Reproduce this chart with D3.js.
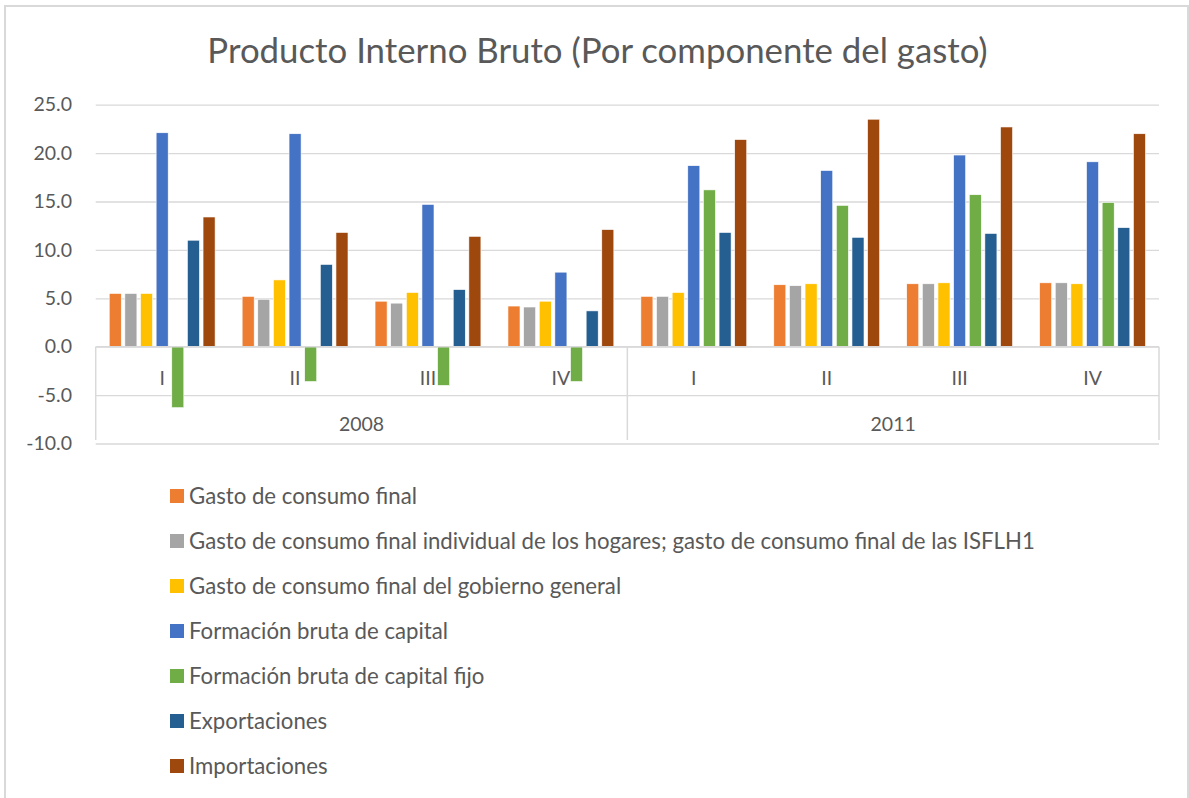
<!DOCTYPE html>
<html>
<head>
<meta charset="utf-8">
<script src="https://cdn.jsdelivr.net/npm/d3@7/dist/d3.min.js"></script>
<style>
  body { margin: 0; background: #fff; }
  svg { display: block; }
  text { font-family: Lato, "Open Sans", sans-serif; fill: #595959; }
</style>
</head>
<body>
<svg id="chart" width="1189" height="798"></svg>
<script>
// Categories: two years, four quarters each
const years = ["2008", "2011"];
const quarters = ["I", "II", "III", "IV"];

// Series (growth rates, %)
const seriesNames = [
  "Gasto de consumo final",
  "Gasto de consumo final individual de los hogares; gasto de consumo final de las ISFLH1",
  "Gasto de consumo final del gobierno general",
  "Formación bruta de capital",
  "Formación bruta de capital fijo",
  "Exportaciones",
  "Importaciones"
];
const seriesColors = ["#ED7D31", "#A5A5A5", "#FFC000", "#4472C4", "#70AD47", "#255E91", "#9E480E"];

const gastoConsumoFinal   = [5.5, 5.2, 4.7, 4.2, 5.2, 6.4, 6.5, 6.6];
const gastoHogares        = [5.5, 4.9, 4.5, 4.1, 5.2, 6.3, 6.5, 6.6];
const gastoGobierno       = [5.5, 6.9, 5.6, 4.7, 5.6, 6.5, 6.6, 6.5];
const formacionBruta      = [22.1, 22.0, 14.7, 7.7, 18.7, 18.2, 19.8, 19.1];
const formacionBrutaFijo  = [-6.3, -3.6, -4.0, -3.6, 16.2, 14.6, 15.7, 14.9];
const exportaciones       = [11.0, 8.5, 5.9, 3.7, 11.8, 11.3, 11.7, 12.3];
const importaciones       = [13.4, 11.8, 11.4, 12.1, 21.4, 23.5, 22.7, 22.0];

const yTicks = [-10, -5, 0, 5, 10, 15, 20, 25];

const seriesValues = [gastoConsumoFinal, gastoHogares, gastoGobierno, formacionBruta,
                      formacionBrutaFijo, exportaciones, importaciones];

// Flattened category keys (year|quarter)
const categories = [];
years.forEach(y => quarters.forEach(q => categories.push(y + "|" + q)));

const svg = d3.select("#chart");
const plot = { left: 95.7, right: 1159, top: 104.7, bottom: 443.5 };

const fmt = d3.formatLocale({ decimal: ".", thousands: ",", grouping: [3], currency: ["", ""], minus: "-" }).format(".1f");

// Outer chart frame
svg.append("rect")
  .attr("x", 5).attr("y", 6).attr("width", 1183).attr("height", 810)
  .attr("fill", "none").attr("stroke", "#D9D9D9").attr("stroke-width", 2);

// Title
svg.append("text")
  .attr("x", 597.5).attr("y", 63)
  .attr("text-anchor", "middle")
  .style("font-size", "34.8px")
  .text("Producto Interno Bruto (Por componente del gasto)");

const y = d3.scaleLinear().domain([-10, 25]).range([plot.bottom, plot.top]);
const x0 = d3.scaleBand().domain(categories).range([plot.left, plot.right]).padding(0);
const x1 = d3.scaleBand().domain(d3.range(seriesNames.length))
  .range([0, x0.bandwidth()]).paddingInner(0.23).paddingOuter(0.865);

// Gridlines
const grid = svg.append("g")
  .attr("transform", `translate(${plot.left},0)`)
  .call(d3.axisLeft(y).tickValues(yTicks).tickSize(-(plot.right - plot.left)).tickFormat(""));
grid.select(".domain").remove();
grid.selectAll("line").attr("stroke", "#D9D9D9").attr("stroke-width", 1.3);

// Y axis labels
const yAxis = svg.append("g")
  .attr("transform", "translate(72,0)")
  .call(d3.axisLeft(y).tickValues(yTicks).tickSize(0).tickPadding(0).tickFormat(fmt));
yAxis.select(".domain").remove();
yAxis.selectAll("text").style("font-size", "19.5px").attr("fill", "#595959");

// Bars
const barGroups = svg.append("g").selectAll("g")
  .data(categories)
  .join("g")
  .attr("transform", d => `translate(${x0(d)},0)`);

barGroups.selectAll("rect")
  .data((d, ci) => seriesValues.map((vals, si) => ({ si, v: vals[ci] })))
  .join("rect")
  .attr("x", d => x1(d.si))
  .attr("width", x1.bandwidth())
  .attr("y", d => y(Math.max(0, d.v)))
  .attr("height", d => Math.abs(y(d.v) - y(0)))
  .attr("fill", d => seriesColors[d.si])
  .attr("stroke", "#fff")
  .attr("stroke-width", 0.6);

// Category axis: zero line, group separators, labels
svg.append("line")
  .attr("x1", plot.left).attr("x2", plot.right)
  .attr("y1", y(0)).attr("y2", y(0))
  .attr("stroke", "#D9D9D9").attr("stroke-width", 1.5);

const yearBounds = [0, 4, 8].map(i => i < categories.length ? x0(categories[i]) : plot.right);
svg.append("g").selectAll("line")
  .data(yearBounds)
  .join("line")
  .attr("x1", d => d).attr("x2", d => d)
  .attr("y1", y(0)).attr("y2", 440)
  .attr("stroke", "#D9D9D9").attr("stroke-width", 1.5);

svg.append("g").selectAll("text")
  .data(categories)
  .join("text")
  .attr("x", d => x0(d) + x0.bandwidth() / 2)
  .attr("y", 378)
  .attr("dy", "0.35em")
  .attr("text-anchor", "middle")
  .style("font-size", "19.5px")
  .text(d => d.split("|")[1]);

svg.append("g").selectAll("text")
  .data(years)
  .join("text")
  .attr("x", (d, i) => (yearBounds[i] + yearBounds[i + 1]) / 2)
  .attr("y", 424)
  .attr("dy", "0.35em")
  .attr("text-anchor", "middle")
  .style("font-size", "19.5px")
  .text(d => d);

// Legend
const legend = svg.append("g").selectAll("g")
  .data(seriesNames)
  .join("g")
  .attr("transform", (d, i) => `translate(170,${496 + i * 45})`);
legend.append("rect")
  .attr("x", 0).attr("y", -7).attr("width", 14).attr("height", 14)
  .attr("fill", (d, i) => seriesColors[i]);
legend.append("text")
  .attr("x", 19).attr("y", 0).attr("dy", "0.35em")
  .style("font-size", "22.2px")
  .text(d => d);
</script>
</body>
</html>
